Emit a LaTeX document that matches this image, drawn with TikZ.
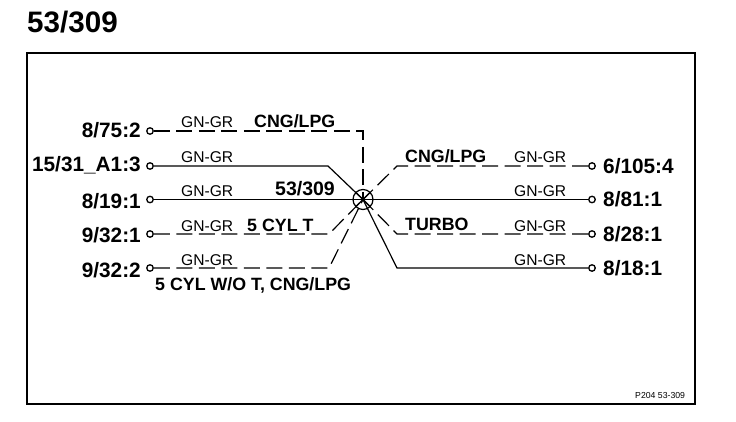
\documentclass[tikz,border=0pt]{standalone}
\usepackage{fontspec}
\setmainfont{Liberation Sans}
\usetikzlibrary{calc}
\tikzset{
 term/.style={circle, draw, line width=1.3pt, fill=white, minimum size=6.5pt, inner sep=0pt},
 wire/.style={line width=1.2pt},
 dashwire/.style={line width=1.2pt, dash pattern=on 16pt off 6.5pt},
 pin/.style={font=\bfseries\fontsize{20.8}{21}\selectfont, inner sep=0pt},
 tag/.style={font=\bfseries\fontsize{17.8}{18}\selectfont, anchor=base west, inner sep=0pt},
 col/.style={font=\fontsize{15.6}{16}\selectfont, anchor=base west, inner sep=0pt}
}
\begin{document}
\begin{tikzpicture}[x=1pt, y=-1pt]
\useasboundingbox (0,0) rectangle (736,422);
\draw[line width=1.5pt] (27,53) rectangle (695,404);

\node[font=\bfseries\fontsize{29.6}{30}\selectfont, anchor=base west, inner sep=0pt] (title) at (27,33) {53/309};
\node[font=\fontsize{8.7}{9}\selectfont, anchor=base west, inner sep=0pt] (ref) at (635,398) {P204 53-309};

\node[circle, draw, line width=1.2pt, minimum size=20pt, inner sep=0pt] (hub) at (363,199.5) {};
\draw[line width=1.2pt] (hub.north west) -- (hub.south east) (hub.north east) -- (hub.south west);

% left side
\foreach \n/\y/\base/\txt in {a/131/138/8\slash 75:2, b/166/172/15\slash 31\_A1:3, c/199.5/208/8\slash 19:1, d/234/242/9\slash 32:1, e/268/277/9\slash 32:2}{
\node[term] (\n) at (150,\y) {};
\node[pin, anchor=base east] (\n txt) at (141,\base) {\txt};
\node[col] (\n col) at (181,\y-3) {GN-GR};
}
% right side
\foreach \n/\y/\base/\txt in {f/166/174/6\slash 105:4, g/199.5/207/8\slash 81:1, h/234/241/8\slash 28:1, i/268/275/8\slash 18:1}{
\node[term] (\n) at (592,\y) {};
\node[pin, anchor=base west] (\n txt) at (603,\base) {\txt};
\node[col] (\n col) at (514,\y-3) {GN-GR};
}

\coordinate (abend) at (363,131);
\coordinate (bbend) at (328,166);
\coordinate (dbend) at (329,234);
\coordinate (ebend) at (329,268);
\coordinate (fbend) at (397,166);
\coordinate (hbend) at (397,234);
\coordinate (ibend) at (397,268);

\draw[dashwire] (a) -- (abend) -- (hub.center);
\draw[wire] (b) -- (bbend) -- (hub.center);
\draw[wire] (c) -- (g);
\draw[dashwire] (d) -- (dbend) -- (hub.center);
\draw[dashwire] (e) -- (ebend) -- (hub.center);
\draw[dashwire] (f) -- (fbend) -- (hub.center);
\draw[dashwire] (h) -- (hbend) -- (hub.center);
\draw[wire] (i) -- (ibend) -- (hub.center);

\node[tag] (cnga) at (254,128) {CNG/LPG};
\node[tag] (cngf) at (405,163) {CNG/LPG};
\node[tag] (turbo) at (405,230) {TURBO};
\node[tag] (cyl) at (247,232) {5 CYL T};
\node[tag] (cylwo) at (155,290) {5 CYL W/O T, CNG/LPG};
\node[tag, font=\bfseries\fontsize{19.5}{20}\selectfont] (hubtxt) at (275,196) {53/309};
\end{tikzpicture}
\end{document}
